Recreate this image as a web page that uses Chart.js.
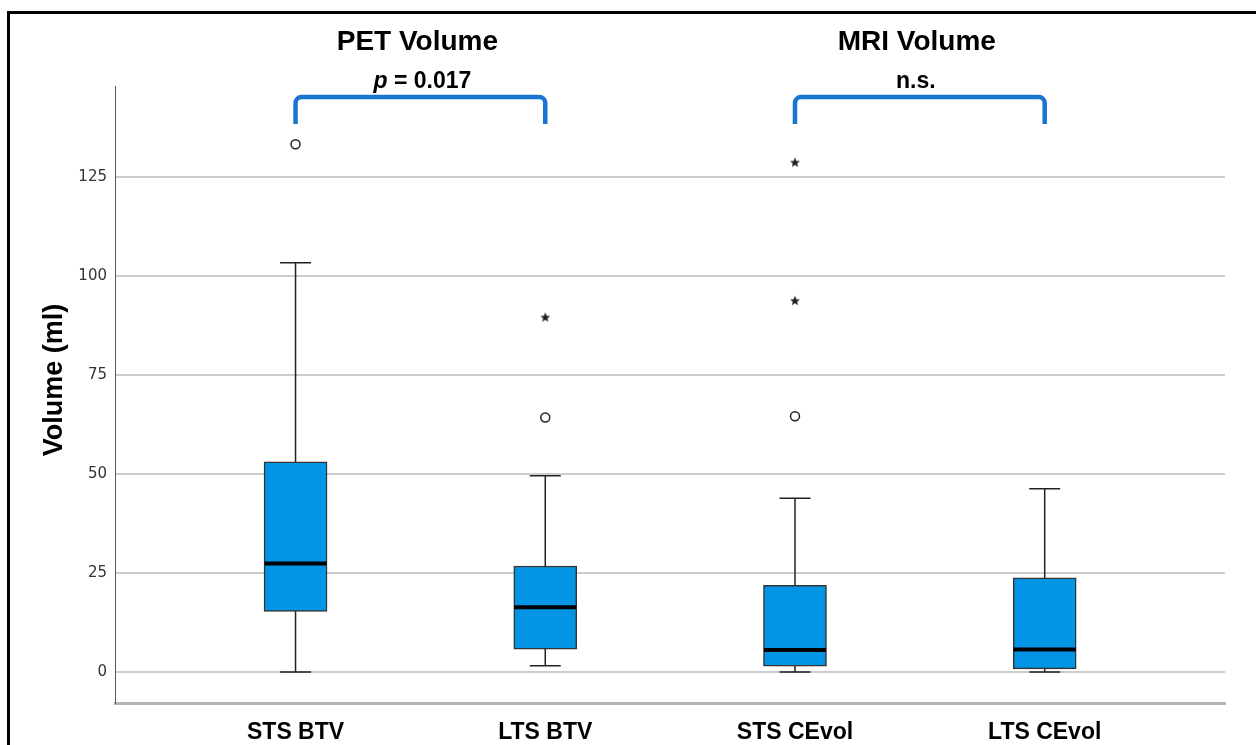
<!DOCTYPE html>
<html>
<head>
<meta charset="utf-8">
<script src="https://cdn.jsdelivr.net/npm/chart.js@4"></script>
<style>
  body { margin: 0; background: #fff; }
  #wrap { position: relative; width: 1256px; height: 745px; overflow: hidden; }
  #frame { position: absolute; left: 7px; top: 11px; width: 1300px; height: 800px;
           border-left: 3px solid #000; border-top: 3px solid #000; }
  #chart { position: absolute; left: 0; top: 0; }
</style>
</head>
<body>
<div id="wrap">
  <div id="frame"></div>
  <canvas id="chart" width="1256" height="745"></canvas>
</div>
<script>
// box plot values (ml)
const categories = ['STS BTV', 'LTS BTV', 'STS CEvol', 'LTS CEvol'];
const whiskerLow = [0, 1.6, 0, 0];
const q1 = [15.3, 5.8, 1.5, 0.8];
const median = [27.4, 16.4, 5.6, 5.7];
const q3 = [53.1, 26.8, 21.9, 23.8];
const whiskerHigh = [103.4, 49.6, 43.9, 46.3];

// outliers: circles and extremes (stars)
const circleCat = [0, 1, 2];
const circleVal = [133.3, 64.3, 64.6];
const starCat = [1, 2, 2];
const starVal = [89.6, 93.8, 128.7];

const yTicks = [0, 25, 50, 75, 100, 125];

// group labels above the brackets
const groupTitles = ['PET Volume', 'MRI Volume'];
const groupNotes = ['p = 0.017', 'n.s.'];
const groupPairs = [[0, 1], [2, 3]];
const bracketTop = 145.2;
const bracketEnd = 138.4;

const boxBlue = 'rgb(2, 149, 230)';

// small filled star used as point style
const starImg = document.createElement('canvas');
starImg.width = 12;
starImg.height = 12;
(function () {
  const c = starImg.getContext('2d');
  c.fillStyle = '#222';
  c.beginPath();
  for (let i = 0; i < 10; i++) {
    const r = i % 2 === 0 ? 5.2 : 2.3;
    const a = -Math.PI / 2 + i * Math.PI / 5;
    const px = 6 + r * Math.cos(a), py = 6.3 + r * Math.sin(a);
    if (i === 0) c.moveTo(px, py); else c.lineTo(px, py);
  }
  c.closePath();
  c.fill();
})();

const boxPlugin = {
  id: 'boxParts',
  beforeDatasetsDraw(chart) {
    const ctx = chart.ctx, x = chart.scales.x, y = chart.scales.y;
    ctx.save();
    ctx.strokeStyle = '#222';
    ctx.lineWidth = 1.5;
    categories.forEach((c, i) => {
      const px = x.getPixelForValue(i);
      ctx.beginPath();
      ctx.moveTo(px, y.getPixelForValue(whiskerLow[i]));
      ctx.lineTo(px, y.getPixelForValue(whiskerHigh[i]));
      [whiskerLow[i], whiskerHigh[i]].forEach(v => {
        const py = y.getPixelForValue(v);
        ctx.moveTo(px - 15.5, py);
        ctx.lineTo(px + 15.5, py);
      });
      ctx.stroke();
    });
    ctx.restore();
  },
  afterDatasetsDraw(chart) {
    const ctx = chart.ctx, x = chart.scales.x, y = chart.scales.y;
    ctx.save();
    ctx.strokeStyle = '#000';
    ctx.lineWidth = 4;
    categories.forEach((c, i) => {
      const px = x.getPixelForValue(i);
      const py = y.getPixelForValue(median[i]);
      ctx.beginPath();
      ctx.moveTo(px - 31, py);
      ctx.lineTo(px + 31, py);
      ctx.stroke();
    });
    ctx.restore();
  },
  afterDraw(chart) {
    const ctx = chart.ctx, x = chart.scales.x, y = chart.scales.y;
    ctx.save();
    // brackets
    ctx.strokeStyle = 'rgb(24, 118, 210)';
    ctx.lineWidth = 4.5;
    ctx.lineJoin = 'round';
    groupPairs.forEach(([a, b]) => {
      const xa = x.getPixelForValue(a), xb = x.getPixelForValue(b);
      const yt = y.getPixelForValue(bracketTop), ye = y.getPixelForValue(bracketEnd);
      ctx.beginPath();
      ctx.moveTo(xa, ye);
      ctx.arcTo(xa, yt, xb, yt, 6);
      ctx.arcTo(xb, yt, xb, ye, 6);
      ctx.lineTo(xb, ye);
      ctx.stroke();
    });
    // group titles and notes
    ctx.fillStyle = '#000';
    ctx.textBaseline = 'middle';
    ctx.textAlign = 'center';
    groupPairs.forEach(([a, b], k) => {
      const mid = (x.getPixelForValue(a) + x.getPixelForValue(b)) / 2;
      ctx.font = 'bold 28px "Liberation Sans", Arial, sans-serif';
      ctx.fillText(groupTitles[k], mid - 3, 42);
      const note = groupNotes[k];
      if (note.startsWith('p ')) {
        ctx.textAlign = 'left';
        const fItal = 'italic bold 23px "Liberation Sans", Arial, sans-serif';
        const fBold = 'bold 23px "Liberation Sans", Arial, sans-serif';
        ctx.font = fItal;
        const w1 = ctx.measureText('p').width;
        ctx.font = fBold;
        const rest = note.slice(1);
        const w2 = ctx.measureText(rest).width;
        const start = mid + 2 - (w1 + w2) / 2;
        ctx.font = fItal;
        ctx.fillText('p', start, 82);
        ctx.font = fBold;
        ctx.fillText(rest, start + w1, 82);
        ctx.textAlign = 'center';
      } else {
        ctx.font = 'bold 23px "Liberation Sans", Arial, sans-serif';
        ctx.fillText(note, mid - 4, 82);
      }
    });
    // y axis title
    ctx.translate(55, 380);
    ctx.rotate(-Math.PI / 2);
    ctx.font = 'bold 27px "Liberation Sans", Arial, sans-serif';
    ctx.fillText('Volume (ml)', 0, 0);
    ctx.restore();
  }
};

new Chart(document.getElementById('chart'), {
  type: 'bar',
  data: {
    datasets: [
      {
        type: 'scatter',
        label: 'Outliers',
        data: circleCat.map((c, i) => ({ x: c, y: circleVal[i] })),
        pointStyle: 'circle',
        pointRadius: 4.5,
        pointBackgroundColor: '#fff',
        pointBorderColor: '#222',
        pointBorderWidth: 1.5
      },
      {
        type: 'scatter',
        label: 'Extremes',
        data: starCat.map((c, i) => ({ x: c, y: starVal[i] })),
        pointStyle: starImg,
        pointRadius: 6
      },
      {
        label: 'IQR',
        data: categories.map((c, i) => ({ x: i, y: [q1[i], q3[i]] })),
        backgroundColor: boxBlue,
        borderColor: '#333',
        borderWidth: 1.5,
        borderSkipped: false,
        barThickness: 63
      }
    ]
  },
  options: {
    responsive: false,
    animation: false,
    layout: { padding: { left: 0, top: 86, right: 31, bottom: 0 } },
    plugins: { legend: { display: false }, tooltip: { enabled: false } },
    scales: {
      x: {
        type: 'linear',
        offset: false,
        min: -0.723,
        max: 3.722,
        afterBuildTicks: s => { s.ticks = categories.map((c, i) => ({ value: i })); },
        afterFit: s => { s.height = 42; },
        grid: { display: false },
        border: { color: '#b4b4b4', width: 3 },
        ticks: {
          callback: v => categories[v],
          padding: 8,
          color: '#000',
          maxRotation: 0,
          font: { family: '"Liberation Sans", Arial, sans-serif', size: 23, weight: 'bold' }
        }
      },
      y: {
        min: -7.8,
        max: 148,
        afterBuildTicks: s => { s.ticks = yTicks.map(v => ({ value: v })); },
        afterFit: s => { s.width = 115; },
        grid: { color: '#cdcdcd', lineWidth: 2, drawTicks: false },
        border: { color: '#555', width: 1 },
        ticks: {
          padding: 8,
          color: '#333',
          font: { family: '"DejaVu Sans", sans-serif', size: 15 }
        }
      }
    }
  },
  plugins: [boxPlugin]
});
</script>
</body>
</html>
